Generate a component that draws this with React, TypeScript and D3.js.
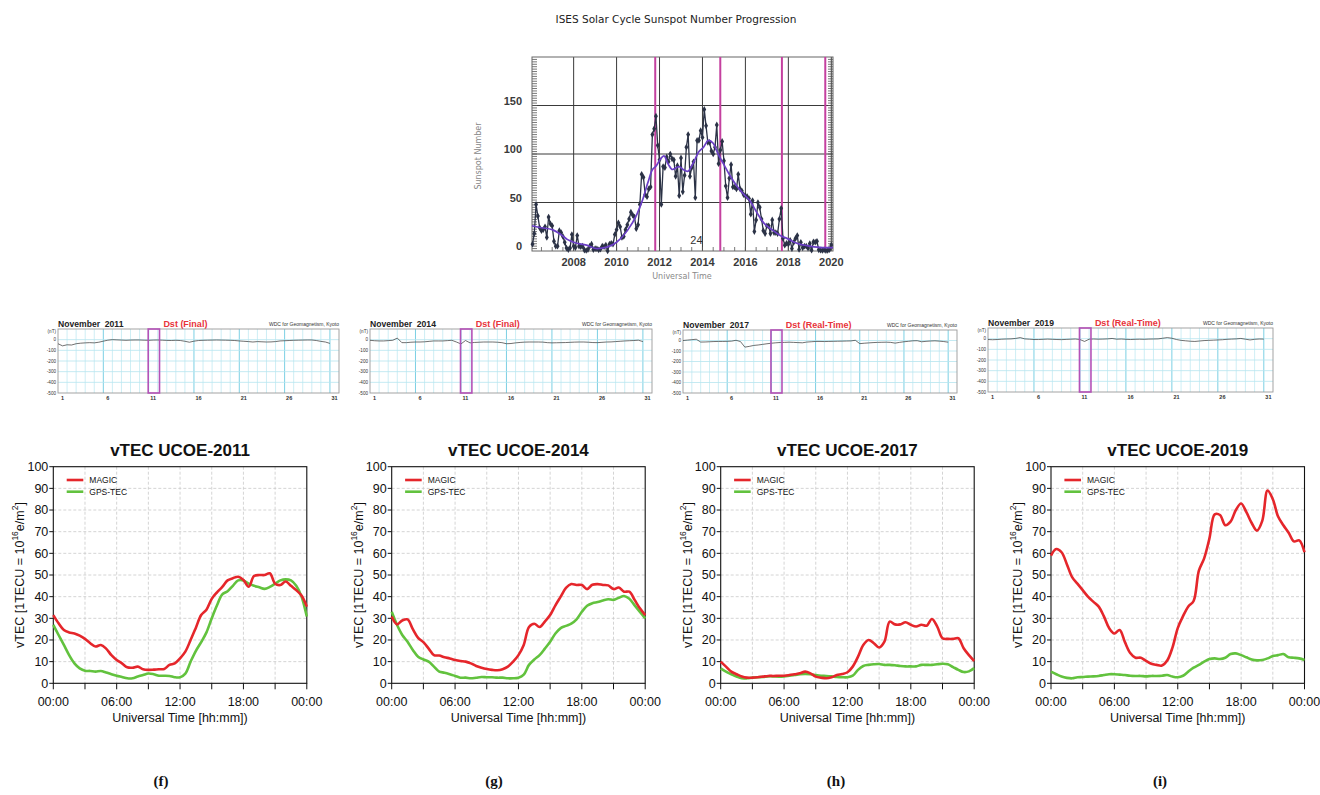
import React from 'react';
import * as d3 from 'd3';

// ---------------- ISES sunspot number progression ----------------
const sunspotFirstMonth = 2006 + 1 / 12; // February 2006, one value per month
const sunspotMonthly = [
  // 2006 (Feb-Dec)
  7, 18, 48, 36, 24, 21, 22, 25, 14, 35, 28,
  // 2007
  26, 10, 5, 5, 21, 19, 15, 9, 3, 1.5, 3, 17,
  // 2008
  5, 3.5, 16, 5, 4.5, 5, 1, 0.5, 1.5, 5, 7, 1.5,
  // 2009
  2.5, 2.3, 1.2, 2, 5, 4.5, 6, 0, 7, 8, 7, 17,
  // 2010
  22, 29, 25, 14, 15, 22, 27, 33, 40, 37, 35, 23,
  // 2011
  27, 48, 79, 76, 58, 56, 64, 66, 120, 126, 139, 109,
  // 2012
  94, 48, 87, 86, 97, 92, 100, 95, 94, 77, 88, 57,
  // 2013
  96, 61, 78, 107, 120, 77, 86, 92, 55, 114, 114, 124,
  // 2014
  117, 146, 129, 112, 112, 103, 100, 107, 130, 90, 104, 113,
  // 2015
  93, 67, 55, 75, 89, 66, 66, 64, 79, 64, 62, 58,
  // 2016
  57, 56, 54, 38, 52, 20, 32, 50, 45, 33, 21, 18,
  // 2017
  26, 26, 18, 32, 19, 19, 18, 33, 44, 13, 6, 8,
  // 2018
  7, 11, 2.5, 9, 13, 16, 1.6, 9, 3.3, 5, 5, 3,
  // 2019
  7.7, 0.8, 9.4, 9.1, 10, 1.2, 0.9, 0.5, 1.1, 0.4, 0.5, 1.5,
  // 2020 (Jan)
  6.2,
];
const smoothYears = [
  2006.06, 2006.5, 2007.0, 2007.4, 2007.7, 2008.0, 2008.6, 2009.1, 2009.55, 2010.0,
  2010.5, 2010.95, 2011.2, 2011.45, 2011.65, 2011.85, 2012.05, 2012.2, 2012.42, 2012.6,
  2012.9, 2013.1, 2013.3, 2013.6, 2013.82, 2014.05, 2014.28, 2014.5, 2014.75, 2015.0,
  2015.3, 2015.6, 2015.9, 2016.2, 2016.55, 2016.85, 2017.3, 2017.62, 2017.93, 2018.4,
  2019.0, 2019.6, 2020.08,
];
const smoothValues = [
  26, 24, 22, 17, 12, 9, 6, 2.5, 4, 9,
  21, 38, 52, 70, 83, 88, 95, 98, 89, 84,
  87, 84, 82, 92, 102, 107, 114, 111, 99, 89,
  77, 67, 59, 52, 39, 29, 21, 16, 13, 8,
  5, 3.5, 3.5,
];
const cycleMarkerYears = [2011.8, 2014.83, 2017.7, 2019.72];
const sunspotYearTicks = [2008, 2010, 2012, 2014, 2016, 2018, 2020];
const sunspotValueTicks = [0, 50, 100, 150];

// ---------------- Dst index, November (value every half day) ----------------
const dstYears = [2011, 2014, 2017, 2019];
const dstStatus = ['Final', 'Final', 'Real-Time', 'Real-Time'];
const dst2011 = [
  -38, -58, -48, -50, -38, -33, -30, -28, -30, -24, -14, -5, 0, -2, -4, -6, -4, -3, -3, -5,
  -6, -4, -3, -5, -7, -8, -6, -8, -15, -24, -14, -8, -6, -5, -4, -3, -4, -5, -6, -8,
  -12, -15, -18, -22, -18, -20, -22, -21, -18, -12, -10, -8, -6, -5, -4, -3, -3, -8, -16, -22,
  -35,
];
const dst2014 = [
  -6, -10, -12, -12, -9, -6, 15, -28, -28, -24, -22, -22, -20, -16, -12, -12, -12, -9, -6, -22,
  -40, -8, -30, -26, -24, -22, -22, -22, -24, -28, -38, -36, -30, -26, -23, -22, -22, -22, -23, -28,
  -30, -29, -28, -27, -25, -23, -22, -22, -24, -27, -28, -25, -22, -21, -18, -15, -12, -10, -8, -5,
  -18,
];
const dst2017 = [
  0, 4, 8, 12, -15, -14, -12, -10, -9, -9, -8, -6, 2, -10, -63, -56, -47, -43, -37, -31,
  -26, -22, -19, -18, -16, -18, -20, -22, -15, -12, -9, -9, -10, -9, -8, -7, -6, -5, -4, 2,
  -30, -26, -23, -20, -18, -17, -16, -18, -25, -18, -12, -8, -3, -2, -12, -8, -5, -3, -6, -10,
  -16,
];
const dst2019 = [
  -8, -10, -8, -5, -3, -2, 2, 10, -2, -5, -8, -8, -6, -4, -6, -8, -9, -7, -5, -3,
  -8, -26, -5, -3, -5, -4, -2, 2, -5, -3, -6, -8, -6, -5, -6, -4, -3, -2, 4, 10,
  4, -8, -16, -20, -24, -26, -22, -18, -16, -14, -12, -10, -6, -4, -2, 2, -5, -12, -6, -3,
  -4,
];
const dstSeries = [dst2011, dst2014, dst2017, dst2019];
const dstDayTicks = [1, 6, 11, 16, 21, 26, 31];
const dstLevels = [0, -100, -200, -300, -400, -500];
const stormDaySpan = [10.45, 11.7];

// ---------------- vTEC over UCOE (value every 30 minutes, 00:00-24:00) ----------------
const vtecYears = [2011, 2014, 2017, 2019];
const magic2011 = [
  31.5, 27.7, 24.6, 23.5, 23, 22, 20.5, 18.5, 17, 17.7, 16, 13, 10.8, 9.2, 7.4, 7.2, 7.7, 6.5, 6.2, 6.3,
  6.5, 6.6, 8.5, 9.2, 11.5, 14.6, 20, 25.7, 31.5, 34, 39, 42, 44.5, 47.5, 48.5, 49.2, 47.7, 44.6, 49.5, 50,
  50, 50.8, 46, 45.4, 47, 45, 43, 40.5, 35.4,
];
const gps2011 = [
  27, 22.3, 17.7, 13, 9.2, 6.9, 5.8, 5.7, 5.4, 5.7, 5, 4.2, 3.5, 2.9, 2.3, 2.3, 3.1, 3.8, 4.5, 4.2,
  3.5, 3.5, 3.4, 2.8, 2.8, 4.5, 10, 15, 19, 23.5, 30, 36, 41, 42.5, 45, 47.5, 47.5, 46, 45, 44.3,
  43.6, 44.5, 46, 47.5, 48, 47.5, 45, 40, 30.8,
];
const magic2014 = [
  30.8, 27.2, 29, 29.5, 25, 21, 19, 16, 13, 12.8, 12, 11.5, 10.8, 10.3, 10, 9.2, 8, 7.2, 6.6, 6.2,
  6, 6.5, 7.7, 10, 13, 17.7, 26, 27.5, 26, 28.5, 31.5, 36, 40, 44, 45.8, 45.4, 45.4, 43.5, 45.5, 45.8,
  45.4, 45.2, 43.5, 44.2, 42.3, 42.3, 38.5, 34.6, 31.5,
];
const gps2014 = [
  33, 27, 22.3, 19.2, 15.4, 12.3, 11, 10, 7.7, 5.4, 4.9, 4.2, 3.4, 2.6, 2.6, 2.3, 2.6, 2.9, 2.8, 2.8,
  2.6, 2.6, 2.3, 2.3, 2.6, 4, 8.5, 11, 13, 16, 19.2, 23, 25.5, 26.5, 27.5, 29.5, 33, 35.8, 37, 37.5,
  38.2, 38.8, 38.5, 39.5, 40.3, 39, 36, 33, 30,
];
const magic2017 = [
  10, 7.7, 5.4, 4.2, 3.1, 2.6, 2.6, 2.8, 3.1, 3.4, 3.4, 3.5, 3.5, 3.8, 4.2, 4.6, 5.4, 4.6, 3.1, 2.6,
  2.3, 2.8, 3.8, 4.3, 5.1, 7.7, 12.3, 17.7, 20, 18.5, 16.5, 19.2, 28.5, 27.2, 27.2, 28.2, 27, 26.2, 27, 26.6,
  29.7, 26.2, 20.8, 20.5, 20.5, 20.8, 16.2, 13, 10.3,
];
const gps2017 = [
  6.9, 5.4, 4.2, 3.1, 2.3, 2.3, 2.6, 2.8, 2.9, 3.2, 3.2, 3.1, 3.2, 3.5, 3.8, 4.2, 4.3, 4.2, 3.8, 3.5,
  3.4, 3.2, 2.9, 2.8, 2.8, 3.5, 6.2, 8, 8.5, 8.8, 8.9, 8.5, 8.5, 8.3, 8, 7.8, 7.8, 7.8, 8.5, 8.5,
  8.5, 8.8, 9, 8.8, 7.5, 6.2, 5.2, 5.5, 7,
];
const magic2019 = [
  59, 62, 60.5, 55, 49, 46, 43, 40, 37.7, 35.5, 31, 25.5, 23, 24.6, 19, 14, 11.8, 11.8, 10.3, 9,
  8.5, 8.2, 10.5, 16.5, 25.5, 31, 35.5, 38, 52, 57.7, 66.9, 78, 77.7, 73, 74.6, 80, 83, 79, 74, 70.5,
  75, 89, 85, 77, 73, 69.5, 65.5, 66, 60.5,
];
const gps2019 = [
  5.4, 4.2, 3.1, 2.5, 2.3, 2.8, 2.9, 3.1, 3.2, 3.4, 3.8, 4.2, 4.2, 4, 3.8, 3.5, 3.4, 3.4, 3.2, 3.4,
  3.4, 3.5, 3.8, 3.1, 2.8, 3.5, 5.4, 7.2, 8.5, 10, 11.2, 11.5, 11.2, 11.8, 13.5, 13.8, 13, 12, 11, 10.6,
  10.8, 11.5, 12.6, 13, 13.5, 12, 11.8, 11.5, 10.8,
];
const magicSeries = [magic2011, magic2014, magic2017, magic2019];
const gpsSeries = [gps2011, gps2014, gps2017, gps2019];
const vtecTicks = [0, 10, 20, 30, 40, 50, 60, 70, 80, 90, 100];
const hourTicks = [0, 3, 6, 9, 12, 15, 18, 21, 24];
const hourLabels = ['00:00', '06:00', '12:00', '18:00', '00:00'];
const panelLetters = ['(f)', '(g)', '(h)', '(i)'];

const SANS = 'Liberation Sans, Arial, sans-serif';

function SunspotChart() {
  const L = 532, R = 833, T = 57, B = 251;
  const x = d3.scaleLinear().domain([2006.06, 2020.08]).range([L, R]);
  const y = d3.scaleLinear().domain([0, 200]).range([B, T]);
  const pts = sunspotMonthly.map((v, i) => [sunspotFirstMonth + i / 12, v] as [number, number]);
  const dataPath = d3.line<[number, number]>().x(d => x(d[0])).y(d => y(d[1]))(pts) || '';
  const smoothPath =
    d3.line<number>().x((_, i) => x(smoothYears[i])).y(d => y(d)).curve(d3.curveMonotoneX)(smoothValues) || '';
  const diamond = d3.symbol().type(d3.symbolDiamond).size(13)() || '';
  const minorY = d3.range(2.5, 200, 2.5);
  const minorX = d3.range(2006.5, 2020.01, 0.5);
  const ink = '#2b3246';
  return (
    <g>
      <text x={676} y={23} textAnchor="middle" fontFamily="DejaVu Sans, sans-serif" fontSize={10.5} fill="#222">
        ISES Solar Cycle Sunspot Number Progression
      </text>
      <rect x={L} y={T} width={R - L} height={B - T} fill="#fff" />
      {sunspotValueTicks.filter(v => v > 0).map(v => (
        <line key={'h' + v} x1={L} x2={R} y1={y(v)} y2={y(v)} stroke="#3a3a3a" strokeWidth={1} />
      ))}
      {sunspotYearTicks.map(t => (
        <line key={'v' + t} x1={x(t)} x2={x(t)} y1={T} y2={B} stroke="#3a3a3a" strokeWidth={1} />
      ))}
      {minorY.map(v => (
        <g key={'my' + v}>
          <line x1={L} x2={L + 5} y1={y(v)} y2={y(v)} stroke="#555" strokeWidth={0.8} />
          <line x1={R - 5} x2={R} y1={y(v)} y2={y(v)} stroke="#555" strokeWidth={0.8} />
        </g>
      ))}
      {minorX.map(t => (
        <line key={'mx' + t} x1={x(t)} x2={x(t)} y1={B} y2={B - 4} stroke="#555" strokeWidth={0.8} />
      ))}
      <rect x={L} y={T} width={R - L} height={B - T} fill="none" stroke="#666" strokeWidth={1} />
      {cycleMarkerYears.map(t => (
        <line key={'c' + t} x1={x(t)} x2={x(t)} y1={T} y2={B} stroke="#c4409f" strokeWidth={2} />
      ))}
      <path d={dataPath} fill="none" stroke={ink} strokeWidth={1.3} />
      {pts.map((p, i) => (
        <path key={'p' + i} d={diamond} transform={`translate(${x(p[0])},${y(p[1])})`} fill={ink} />
      ))}
      <path d={smoothPath} fill="none" stroke="#6b3fc6" strokeWidth={1.7} />
      <text x={x(2013.72)} y={y(0) - 7} textAnchor="middle" fontFamily={SANS} fontSize={11} fill="#333">
        24
      </text>
      {sunspotValueTicks.map(v => (
        <text key={'yl' + v} x={L - 10} y={y(v) - 1} textAnchor="end" fontFamily={SANS} fontWeight="bold" fontSize={11} fill="#3a3a3a">
          {v}
        </text>
      ))}
      {sunspotYearTicks.map(t => (
        <text key={'xl' + t} x={x(t)} y={B + 15} textAnchor="middle" fontFamily={SANS} fontWeight="bold" fontSize={11} fill="#3a3a3a">
          {t}
        </text>
      ))}
      <text x={682} y={279} textAnchor="middle" fontFamily="DejaVu Sans, sans-serif" fontSize={8} fill="#888">
        Universal Time
      </text>
      <text transform={`translate(481,${(T + B) / 2 + 2}) rotate(-90)`} textAnchor="middle" fontFamily="DejaVu Sans, sans-serif" fontSize={8} fill="#888">
        Sunspot Number
      </text>
    </g>
  );
}

type Box = { l: number; r: number; t: number; b: number };
const dstBoxes: Box[] = [
  { l: 58, r: 339, t: 329, b: 393 },
  { l: 370, r: 652, t: 329, b: 393 },
  { l: 683, r: 957, t: 330, b: 393 },
  { l: 988, r: 1273, t: 328, b: 392 },
];

function DstPanel({ box, year, status, values }: { box: Box; year: number; status: string; values: number[] }) {
  const x = d3.scaleLinear().domain([0.5, 31.5]).range([box.l, box.r]);
  const y = d3.scaleLinear().domain([-500, 100]).range([box.b, box.t]);
  const path = d3.line<number>().x((_, i) => x(0.5 + i * 0.5)).y(d => y(d))(values) || '';
  const dayLines = d3.range(1.5, 31, 1);
  return (
    <g>
      <text x={box.l} y={box.t - 2.5} fontFamily={SANS} fontWeight="bold" fontSize={8.6} fill="#222" xmlSpace="preserve">
        {`November  ${year}`}
      </text>
      <text x={box.l + (box.r - box.l) * 0.375} y={box.t - 2.5} fontFamily={SANS} fontWeight="bold" fontSize={9} fill="#e8333a">
        {`Dst (${status})`}
      </text>
      <text x={box.r} y={box.t - 3} textAnchor="end" fontFamily={SANS} fontSize={5} fill="#333">
        WDC for Geomagnetism, Kyoto
      </text>
      <rect x={box.l} y={box.t} width={box.r - box.l} height={box.b - box.t} fill="#fff" />
      {dayLines.map(d => (
        <line
          key={'d' + d}
          x1={x(d)}
          x2={x(d)}
          y1={box.t}
          y2={box.b}
          stroke={(d - 0.5) % 5 === 0 ? '#7cd0e4' : '#c2eaf3'}
          strokeWidth={(d - 0.5) % 5 === 0 ? 1 : 0.8}
        />
      ))}
      {dstLevels.filter(v => v > -500).map(v => (
        <line key={'l' + v} x1={box.l} x2={box.r} y1={y(v)} y2={y(v)} stroke="#b6e4ef" strokeWidth={0.8} />
      ))}
      <rect x={box.l} y={box.t} width={box.r - box.l} height={box.b - box.t} fill="none" stroke="#9a9a9a" strokeWidth={0.9} />
      <path d={path} fill="none" stroke="#333" strokeWidth={0.7} />
      <rect
        x={x(stormDaySpan[0])}
        y={box.t}
        width={x(stormDaySpan[1]) - x(stormDaySpan[0])}
        height={box.b - box.t}
        fill="none"
        stroke="#b452b8"
        strokeWidth={1.6}
      />
      <text x={box.l - 2} y={y(75) + 1.5} textAnchor="end" fontFamily={SANS} fontSize={4.6} fill="#333">
        (nT)
      </text>
      {dstLevels.map(v => (
        <text key={'t' + v} x={box.l - 2} y={y(v) + 1.6} textAnchor="end" fontFamily={SANS} fontSize={4.6} fill="#333">
          {v === 0 ? '0' : `-${-v}`}
        </text>
      ))}
      {dstDayTicks.map(d => (
        <text key={'x' + d} x={x(d)} y={box.b + 7} textAnchor="middle" fontFamily={SANS} fontWeight="bold" fontSize={5.5} fill="#333">
          {d}
        </text>
      ))}
    </g>
  );
}

const vtecLefts = [53.3, 391.7, 720.7, 1051];
const letterXs = [161, 494, 836, 1160];

function VtecPanel({ idx }: { idx: number }) {
  const left = vtecLefts[idx];
  const T = 466.7, B = 683.3, R = left + 253.5;
  const x = d3.scaleLinear().domain([0, 24]).range([left, R]);
  const y = d3.scaleLinear().domain([0, 100]).range([B, T]);
  const mk = d3.line<number>().x((_, i) => x(i / 2)).y(d => y(d)).curve(d3.curveCatmullRom.alpha(0.5));
  const cx = (left + R) / 2;
  const red = '#e5262b';
  const green = '#62c23e';
  return (
    <g>
      <text x={cx} y={456} textAnchor="middle" fontFamily={SANS} fontWeight="bold" fontSize={17} fill="#111">
        {`vTEC UCOE-${vtecYears[idx]}`}
      </text>
      {vtecTicks.filter(v => v > 0 && v < 100).map(v => (
        <line key={'gy' + v} x1={left} x2={R} y1={y(v)} y2={y(v)} stroke="#c9c9c9" strokeWidth={0.8} strokeDasharray="3 2" />
      ))}
      {hourTicks.filter(h => h > 0 && h < 24).map(h => (
        <line key={'gx' + h} x1={x(h)} x2={x(h)} y1={T} y2={B} stroke="#c9c9c9" strokeWidth={0.8} strokeDasharray="3 2" />
      ))}
      <rect x={left} y={T} width={R - left} height={B - T} fill="none" stroke="#111" strokeWidth={1.1} />
      {vtecTicks.map(v => (
        <g key={'ty' + v}>
          <line x1={left - 4} x2={left} y1={y(v)} y2={y(v)} stroke="#111" strokeWidth={1} />
          <text x={left - 5} y={y(v) + 4.4} textAnchor="end" fontFamily={SANS} fontSize={12.5} fill="#111">
            {v}
          </text>
        </g>
      ))}
      {hourTicks.map(h => (
        <line key={'tx' + h} x1={x(h)} x2={x(h)} y1={B} y2={B + 6} stroke="#111" strokeWidth={1} />
      ))}
      {hourLabels.map((lab, i) => (
        <text key={'hl' + i} x={x(i * 6)} y={706} textAnchor="middle" fontFamily={SANS} fontSize={12.5} fill="#111">
          {lab}
        </text>
      ))}
      <text x={cx} y={722} textAnchor="middle" fontFamily={SANS} fontSize={12.5} fill="#111">
        Universal Time [hh:mm])
      </text>
      <text transform={`translate(${left - 29},${(T + B) / 2}) rotate(-90)`} textAnchor="middle" fontFamily={SANS} fontSize={12.5} fill="#111">
        vTEC [1TECU = 10
        <tspan dy={-6} fontSize={8.5}>16</tspan>
        <tspan dy={6}>e/m</tspan>
        <tspan dy={-6} fontSize={8.5}>2</tspan>
        <tspan dy={6}>]</tspan>
      </text>
      <path d={mk(gpsSeries[idx]) || ''} fill="none" stroke={green} strokeWidth={2.6} strokeLinejoin="round" />
      <path d={mk(magicSeries[idx]) || ''} fill="none" stroke={red} strokeWidth={2.6} strokeLinejoin="round" />
      <line x1={left + 13.4} x2={left + 30} y1={T + 13.3} y2={T + 13.3} stroke={red} strokeWidth={2.6} />
      <text x={left + 36} y={T + 16.3} fontFamily={SANS} fontSize={8.5} fill="#111">
        MAGIC
      </text>
      <line x1={left + 13.4} x2={left + 30} y1={T + 25} y2={T + 25} stroke={green} strokeWidth={2.6} />
      <text x={left + 36} y={T + 28} fontFamily={SANS} fontSize={8.5} fill="#111">
        GPS-TEC
      </text>
      <text x={letterXs[idx]} y={786} textAnchor="middle" fontFamily="Liberation Serif, serif" fontWeight="bold" fontSize={15} fill="#111">
        {panelLetters[idx]}
      </text>
    </g>
  );
}

export default function App() {
  return (
    <svg
      width={1320}
      height={795}
      viewBox="0 0 1320 795"
      style={{ position: 'absolute', left: 0, top: 0, background: '#fff' }}
    >
      <rect x={0} y={0} width={1320} height={795} fill="#fff" />
      <SunspotChart />
      {dstBoxes.map((b, i) => (
        <DstPanel key={'dst' + i} box={b} year={dstYears[i]} status={dstStatus[i]} values={dstSeries[i]} />
      ))}
      {vtecYears.map((_, i) => (
        <VtecPanel key={'v' + i} idx={i} />
      ))}
    </svg>
  );
}
